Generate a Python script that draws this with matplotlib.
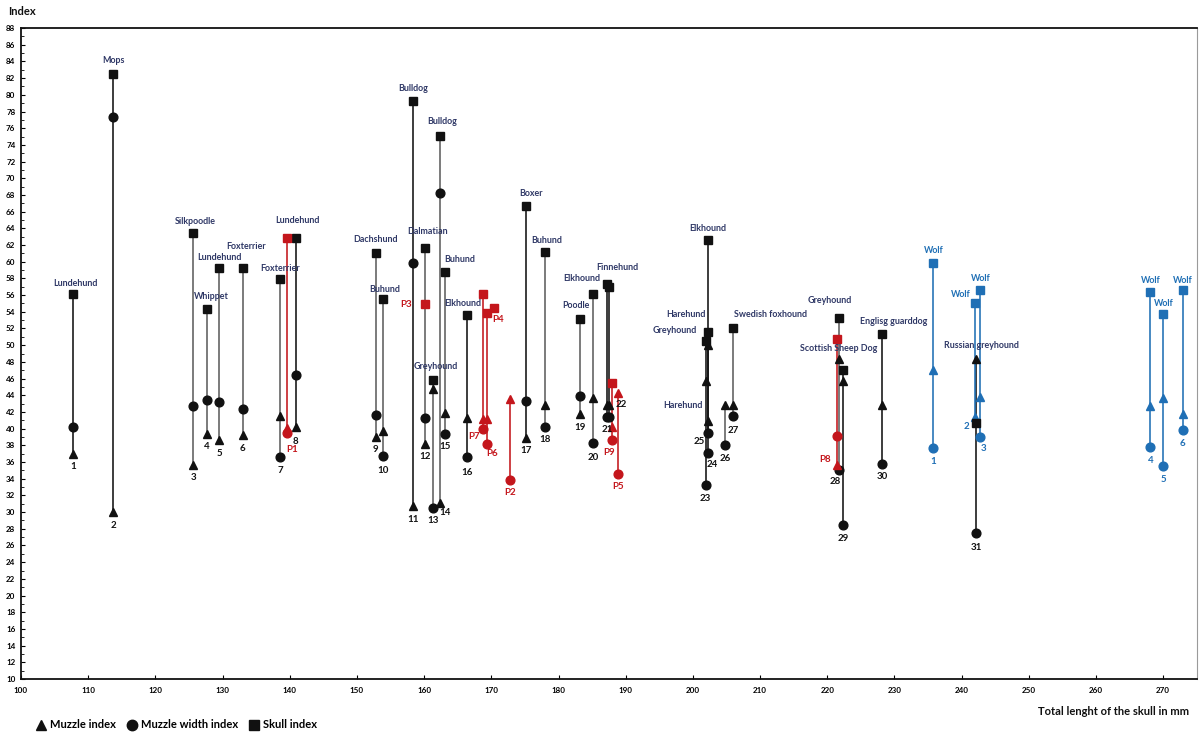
import numpy as np
import matplotlib.pyplot as plt
from matplotlib.lines import Line2D

plt.rcParams["font.family"] = ["Lato", "DejaVu Sans"]
plt.rcParams["font.weight"] = "bold"

BLACK = "#111111"
GRAY = "#5e5e5e"
RED = "#c4161c"
BLUE = "#1f6fb5"
NAVY = "#2f3866"
nan = np.nan

# modern dogs: skull length (mm) and three indices
dog_num = [str(i) for i in range(1, 32)]
dog_breed = ["Lundehund", "Mops", "Silkpoodle", "Whippet", "Lundehund", "Foxterrier",
             "Foxterrier", "Lundehund", "Dachshund", "Buhund", "Bulldog", "Dalmatian",
             "Greyhound", "Bulldog", "Buhund", "Elkhound", "Boxer", "Buhund", "Poodle",
             "Elkhound", "Finnehund", "", "Greyhound", "Elkhound", "Harehund", "Harehund",
             "Swedish foxhound", "Greyhound", "Scottish Sheep Dog", "Englisg guarddog",
             "Russian greyhound"]
dog_len = [107.7, 113.7, 125.6, 127.7, 129.5, 133.0, 138.6, 140.9, 152.8, 153.9, 158.4,
           160.1, 161.3, 162.4, 163.1, 166.4, 175.2, 178.0, 183.2, 185.1, 187.2, 187.5,
           201.9, 202.3, 202.2, 204.8, 206.0, 221.8, 222.3, 228.2, 242.15]
dog_skull = [56.1, 82.5, 63.4, 54.3, 59.2, 59.2, 57.9, 62.9, 61.0, 55.5, 79.2, 61.6,
             45.8, 75.1, 58.8, 53.6, 66.7, 61.2, 53.1, 56.1, 57.3, 57.0, 50.5, 62.6,
             51.6, nan, 52.0, 53.2, 47.0, 51.4, 40.7]
dog_width = [40.2, 77.4, 42.7, 43.4, 43.2, 42.4, 36.6, 46.4, 41.6, 36.7, 59.9, 41.3,
             30.5, 68.2, 39.4, 36.6, 43.3, 40.2, 43.9, 38.3, 41.4, 41.4, 33.2, 37.1,
             39.5, 38.0, 41.5, 35.1, 28.4, 35.8, 27.5]
dog_muzzle = [37.0, 30.0, 35.7, 39.4, 38.6, 39.2, 41.5, 40.2, 39.0, 39.7, 30.7, 38.2,
              44.8, 31.1, 41.9, 41.3, 38.9, 42.8, 41.7, 43.7, 42.8, 42.8, 45.7, 40.9,
              50.0, 42.8, 42.8, 48.4, 45.7, 42.8, 48.4]

# prehistoric specimens
p_num = ["P1", "P2", "P3", "P4", "P5", "P6", "P7", "P8", "P9"]
p_len = [139.6, 172.8, 160.2, 170.4, 188.8, 169.3, 168.7, 221.5, 188.0]
p_skull = [62.9, nan, 54.9, 54.4, nan, 53.8, 56.1, 50.7, 45.5]
p_width = [39.5, 33.9, nan, nan, 34.6, 38.2, 40.0, 39.1, 38.6]
p_muzzle = [40.1, 43.5, nan, nan, 44.3, 41.1, 41.1, 35.7, 40.2]

# wolves
w_num = ["1", "2", "3", "4", "5", "6"]
w_len = [235.8, 242.0, 242.8, 268.1, 270.0, 272.9]
w_skull = [59.8, 55.0, 56.6, 56.4, 53.7, 56.6]
w_width = [37.7, nan, 39.0, 37.8, 35.5, 39.8]
w_muzzle = [47.0, 41.4, 43.8, 42.7, 43.7, 41.8]

# label nudges in pixels (dx, dy; dy positive = down)
NAME_NUDGE = {
    "d1": (3, -11), "d3": (2, -12), "d4": (4, -13), "d5": (0, -11), "d6": (3, -22),
    "d7": (0, -11), "d8": (2, -17), "d9": (0, -14), "d10": (2, -10), "d12": (3, -17),
    "d13": (3, -14), "d14": (2, -14), "d15": (15, -12), "d16": (-4, -12), "d17": (5, -12),
    "d18": (2, -11), "d19": (-4, -14), "d20": (-11, -16), "d21": (10, -17),
    "d23": (-31, -11), "d24": (-1, -12), "d25": (-22, -17), "d26": (-42, 0),
    "d27": (37, -14), "d28": (-10, -18), "d29": (-4, -22), "d30": (11, -12),
    "d31": (5, -77), "w2": (-14, -9), "w3": (0, -12), "w4": (0, -11), "w5": (1, -11),
    "w6": (0, -10),
}
NUM_NUDGE = {
    "d8": (0, 15), "d10": (0, 14), "d14": (5, 10), "d16": (0, 15), "d20": (0, 15),
    "d22": (12, -12), "d24": (4, 12), "d25": (-8, 9), "d27": (0, 14), "d28": (-4, 12),
    "d31": (0, 15), "pP1": (5, 17), "pP3": (-19, 0), "pP4": (4, 11), "pP6": (5, 10),
    "pP7": (-9, 8), "pP8": (-12, -5), "pP9": (-3, 12), "w1": (0, 14), "w2": (-9, 10),
    "w3": (3, 12),
}
GRAY_LINES = {3, 4, 5, 6, 7, 9, 10, 12, 13, 14, 15, 18, 19, 20, 26, 27, 28}


def pts(d):
    return (d[0] * 0.72, -d[1] * 0.72)


def draw_group(ax, key, nums, names, length, skull, width, muzzle, color, line_colors,
               name_color, num_color):
    for i, x in enumerate(length):
        vals = np.array([muzzle[i], width[i], skull[i]], dtype=float)
        lo, hi = np.nanmin(vals), np.nanmax(vals)
        ax.vlines(x, lo, hi, color=line_colors[i], lw=1.15, zorder=2)
        tag = key + nums[i]
        anchor = lo
        if tag in ("pP3", "pP4"):
            anchor = skull[i]
        ax.annotate(nums[i], (x, anchor), xytext=pts(NUM_NUDGE.get(tag, (0, 13))),
                    textcoords="offset points", ha="center", va="center",
                    fontsize=7, color=num_color, fontweight="bold", zorder=5)
        if names[i]:
            top = skull[i] if not np.isnan(skull[i]) else hi
            ax.annotate(names[i], (x, top), xytext=pts(NAME_NUDGE.get(tag, (0, -13))),
                        textcoords="offset points", ha="center", va="center",
                        fontsize=6.4, color=name_color, fontweight="bold", zorder=5)
    ax.plot(length, muzzle, ls="none", marker="^", ms=6, color=color, zorder=3)
    ax.plot(length, width, ls="none", marker="o", ms=6.3, color=color, zorder=3)
    ax.plot(length, skull, ls="none", marker="s", ms=5.6, color=color, zorder=4)


fig = plt.figure(figsize=(12.01, 7.36), dpi=100)
ax = fig.add_axes([0.0175, 0.0774, 0.979, 0.8845])

dog_lines = [GRAY if int(n) in GRAY_LINES else BLACK for n in dog_num]
draw_group(ax, "d", dog_num, dog_breed, dog_len, dog_skull, dog_width, dog_muzzle,
           BLACK, dog_lines, NAVY, BLACK)
draw_group(ax, "p", p_num, [""] * len(p_num), p_len, p_skull, p_width, p_muzzle,
           RED, [RED] * len(p_num), RED, RED)
draw_group(ax, "w", w_num, ["Wolf"] * len(w_num), w_len, w_skull, w_width, w_muzzle,
           BLUE, [BLUE] * len(w_num), BLUE, BLUE)

ax.set_xlim(100, 275)
ax.set_ylim(10, 88)
ax.set_xticks(np.arange(100, 271, 10))
ax.set_yticks(np.arange(10, 89, 2))
ax.set_yticks(np.arange(10, 89, 1), minor=True)
ax.tick_params(axis="both", which="major", direction="in", length=3, width=0.8,
               labelsize=5.8, pad=4)
ax.tick_params(axis="x", which="major", pad=6)
ax.tick_params(axis="y", which="minor", direction="in", length=2, width=0.6)
for lab in ax.get_xticklabels() + ax.get_yticklabels():
    lab.set_fontweight("bold")
for side in ["left", "bottom", "top"]:
    ax.spines[side].set_linewidth(1.3)
    ax.spines[side].set_color(BLACK)
ax.spines["right"].set_color("#9a9a9a")
ax.spines["right"].set_linewidth(0.8)

fig.text(0.007, 0.984, "Index", fontsize=8, fontweight="bold", va="center", color=BLACK)
fig.text(0.99, 0.033, "Total lenght of the skull in mm", fontsize=8, fontweight="bold",
         ha="right", va="center", color=BLACK)

handles = [Line2D([], [], ls="none", marker="^", ms=7, color=BLACK),
           Line2D([], [], ls="none", marker="o", ms=7.5, color=BLACK),
           Line2D([], [], ls="none", marker="s", ms=6.5, color=BLACK)]
fig.legend(handles, ["Muzzle index", "Muzzle width index", "Skull index"],
           loc="center left", bbox_to_anchor=(0.022, 0.015), ncol=3, frameon=False,
           handlelength=0.9, handletextpad=0.35, columnspacing=1.0,
           prop={"size": 8, "weight": "bold"})

fig.savefig("out.png", dpi=100)
